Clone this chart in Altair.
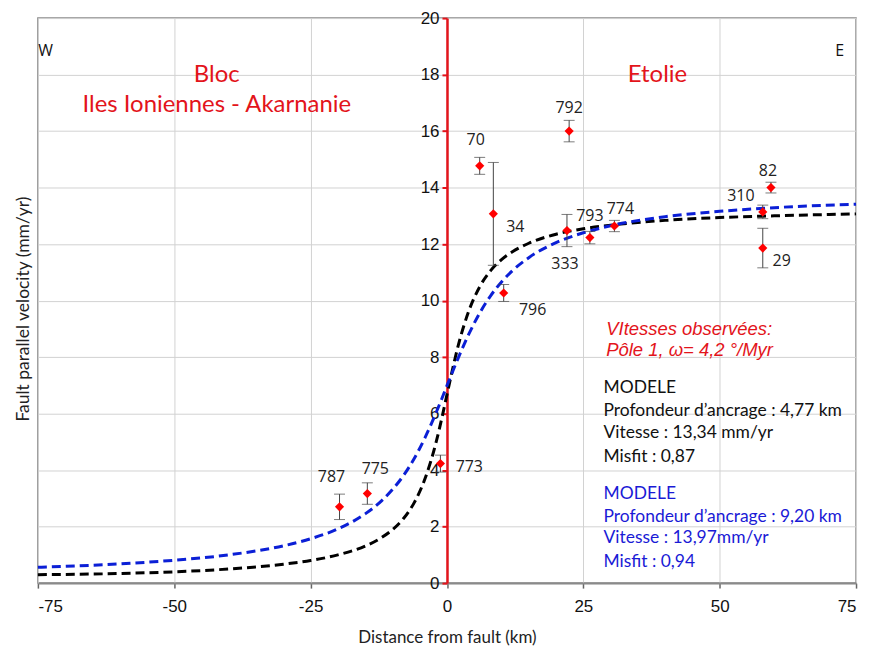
import altair as alt
import pandas as pd

# ---------------- observed GPS velocities ----------------
site = ["787", "775", "773", "70", "34", "796", "792", "333", "793", "774", "310", "82", "29"]
dist = [-19.7, -14.6, -1.2, 6.0, 8.5, 10.4, 22.4, 22.0, 26.2, 30.7, 57.9, 59.4, 57.9]
vel = [2.70, 3.17, 4.23, 14.77, 13.07, 10.27, 16.0, 12.48, 12.23, 12.64, 13.14, 14.0, 11.86]
err = [0.45, 0.38, 0.30, 0.30, 1.82, 0.30, 0.38, 0.57, 0.22, 0.20, 0.24, 0.19, 0.70]

# label placement (pixel offsets from the point)
lab_dx = [-8, 8, 29, -4, 22, 29, 0, -2, 0, 6, -22, -3, 19]
lab_dy = [-30, -25, 3, -26, 13, 17, -23, 34, -22, -17, -16, -17, 13]

# ---------------- model curves ----------------
model_x = [-75, -60, -50, -40, -30, -25, -20, -15, -12, -10, -8, -6, -4, -2, -1, 0,
           1, 2, 4, 6, 8, 10, 12, 15, 20, 25, 30, 40, 50, 60, 75]
model_black = [0.30, 0.34, 0.40, 0.50, 0.67, 0.80, 1.00, 1.31, 1.61, 1.89, 2.28, 2.85, 3.71, 4.98, 5.79, 6.67,
               7.55, 8.36, 9.63, 10.49, 11.06, 11.45, 11.73, 12.03, 12.35, 12.54, 12.67, 12.84, 12.94, 13.00, 13.07]
model_blue = [0.56, 0.68, 0.81, 1.00, 1.32, 1.57, 1.92, 2.45, 2.91, 3.31, 3.80, 4.41, 5.16, 6.03, 6.50, 6.99,
              7.47, 7.94, 8.81, 9.56, 10.17, 10.66, 11.06, 11.52, 12.05, 12.40, 12.65, 12.97, 13.16, 13.29, 13.41]

# ---------------- annotations ----------------
corner_text = ["W", "E"]
corner_x = [-73.6, 72.0]
corner_y = [18.84, 18.84]

block_text = ["Bloc", "Iles Ioniennes - Akarnanie", "Etolie"]
block_x = [-42.2, -42.2, 38.6]
block_y = [17.99, 16.93, 17.99]

obs_text = ["VItesses observées:", "Pôle 1, ω= 4,2 °/Myr"]
obs_x = [29.2, 29.2]
obs_y = [8.99, 8.25]

m1_text = ["MODELE", "Profondeur d’ancrage : 4,77 km", "Vitesse : 13,34 mm/yr", "Misfit : 0,87"]
m1_y = [6.91, 6.10, 5.33, 4.48]
m2_text = ["MODELE", "Profondeur d’ancrage : 9,20 km", "Vitesse : 13,97mm/yr", "Misfit : 0,94"]
m2_y = [3.17, 2.33, 1.59, 0.74]
model_text_x = 28.7

W, H = 821, 567
RED = "#e3141b"
BLUE_TXT = "#1a1ad6"
BLUE_LINE = "#0b1fd6"

obs = pd.DataFrame({"site": site, "x": dist, "y": vel,
                    "lo": [v - e for v, e in zip(vel, err)],
                    "hi": [v + e for v, e in zip(vel, err)],
                    "dx": lab_dx, "dy": lab_dy})
curves_black = pd.DataFrame({"x": model_x, "y": model_black})
curves_blue = pd.DataFrame({"x": model_x, "y": model_blue})

xs = alt.Scale(domain=[-75, 75], nice=False, zero=False)
ys = alt.Scale(domain=[0, 20], nice=False, zero=False)

x_axis = alt.Axis(values=[-75, -50, -25, 0, 25, 50, 75], grid=True, gridColor="#d2d2d2", gridWidth=1,
                  labelExpr="datum.value < 0 ? '-' + abs(datum.value) : '' + datum.value",
                  domainColor="#8a8a8a", domainWidth=2, tickColor="#666", tickSize=5, tickWidth=1.5,
                  labelFont="Liberation Sans", labelFontSize=17, labelColor="#111", labelPadding=10,
                  title="Distance from fault (km)", titleFont="Lato", titleFontSize=17,
                  titleFontWeight="normal", titleColor="#222", titlePadding=16)
y_axis = alt.Axis(values=list(range(0, 21, 2)), offset=-W / 2, grid=True, gridColor="#d2d2d2", gridWidth=1,
                  domainColor=RED, domainWidth=2.5, tickColor=RED, tickSize=5, tickWidth=2,
                  labelFont="Liberation Sans", labelFontSize=17, labelColor="#111", labelPadding=3,
                  title="Fault parallel velocity (mm/yr)", titleFont="Lato", titleFontSize=17.5,
                  titleFontWeight="normal", titleColor="#222",
                  titleX=-W / 2 - 14, titleY=H / 2 + 8, titleAngle=270, titleBaseline="middle", titleAlign="center")


def X(field):
    return alt.X(field, scale=xs, axis=x_axis)


def Y(field):
    return alt.Y(field, scale=ys, axis=y_axis)


base_black = alt.Chart(curves_black).mark_line(
    color="black", strokeWidth=3, strokeDash=[9, 5], interpolate="monotone"
).encode(x=X("x:Q"), y=Y("y:Q"))

line_blue = alt.Chart(curves_blue).mark_line(
    color=BLUE_LINE, strokeWidth=3, strokeDash=[9, 5], interpolate="monotone"
).encode(x=X("x:Q"), y=Y("y:Q"))

bars = alt.Chart(obs).mark_rule(color="#444", strokeWidth=1).encode(
    x=X("x:Q"), y=Y("lo:Q"), y2="hi:Q")
cap_lo = alt.Chart(obs).mark_tick(color="#444", orient="horizontal", size=11, thickness=1).encode(
    x=X("x:Q"), y=Y("lo:Q"))
cap_hi = alt.Chart(obs).mark_tick(color="#444", orient="horizontal", size=11, thickness=1).encode(
    x=X("x:Q"), y=Y("hi:Q"))
pts = alt.Chart(obs).mark_point(shape="diamond", filled=True, size=85, color="#ff0000", opacity=1).encode(
    x=X("x:Q"), y=Y("y:Q"))
labels = alt.Chart(obs).transform_calculate(
    lx=f"datum.x + datum.dx * 150 / {W}", ly=f"datum.y - datum.dy * 20 / {H}"
).mark_text(font="Open Sans", fontSize=16, color="#222", align="center", baseline="middle").encode(
    x=X("lx:Q"), y=Y("ly:Q"), text="site:N")


def text_layer(texts, xv, yv, **kw):
    df = pd.DataFrame({"t": texts, "x": xv, "y": yv})
    return alt.Chart(df).mark_text(baseline="middle", **kw).encode(
        x=X("x:Q"), y=Y("y:Q"), text="t:N")


t_corner = text_layer(corner_text, corner_x, corner_y, font="Open Sans", fontSize=16, color="#111", align="center")
t_block = text_layer(block_text, block_x, block_y, font="Lato", fontSize=24, color=RED, align="center")
t_obs = text_layer(obs_text, obs_x, obs_y, font="Liberation Sans", fontSize=18.5, fontStyle="italic",
                   color=RED, align="left")
t_m1 = text_layer(m1_text, [model_text_x] * 4, m1_y, font="Lato", fontSize=17.5, color="#111", align="left")
t_m2 = text_layer(m2_text, [model_text_x] * 4, m2_y, font="Lato", fontSize=17.5, color=BLUE_TXT, align="left")

chart = alt.layer(
    base_black, line_blue, bars, cap_lo, cap_hi, pts, labels,
    t_corner, t_block, t_obs, t_m1, t_m2
).properties(
    width=W, height=H, padding={"left": 7, "top": 0, "right": 5, "bottom": 5}, background="white"
).configure_view(stroke="#8a8a8a", strokeWidth=1.5)

chart.save("out.html", embed_options={"renderer": "svg", "actions": False})
